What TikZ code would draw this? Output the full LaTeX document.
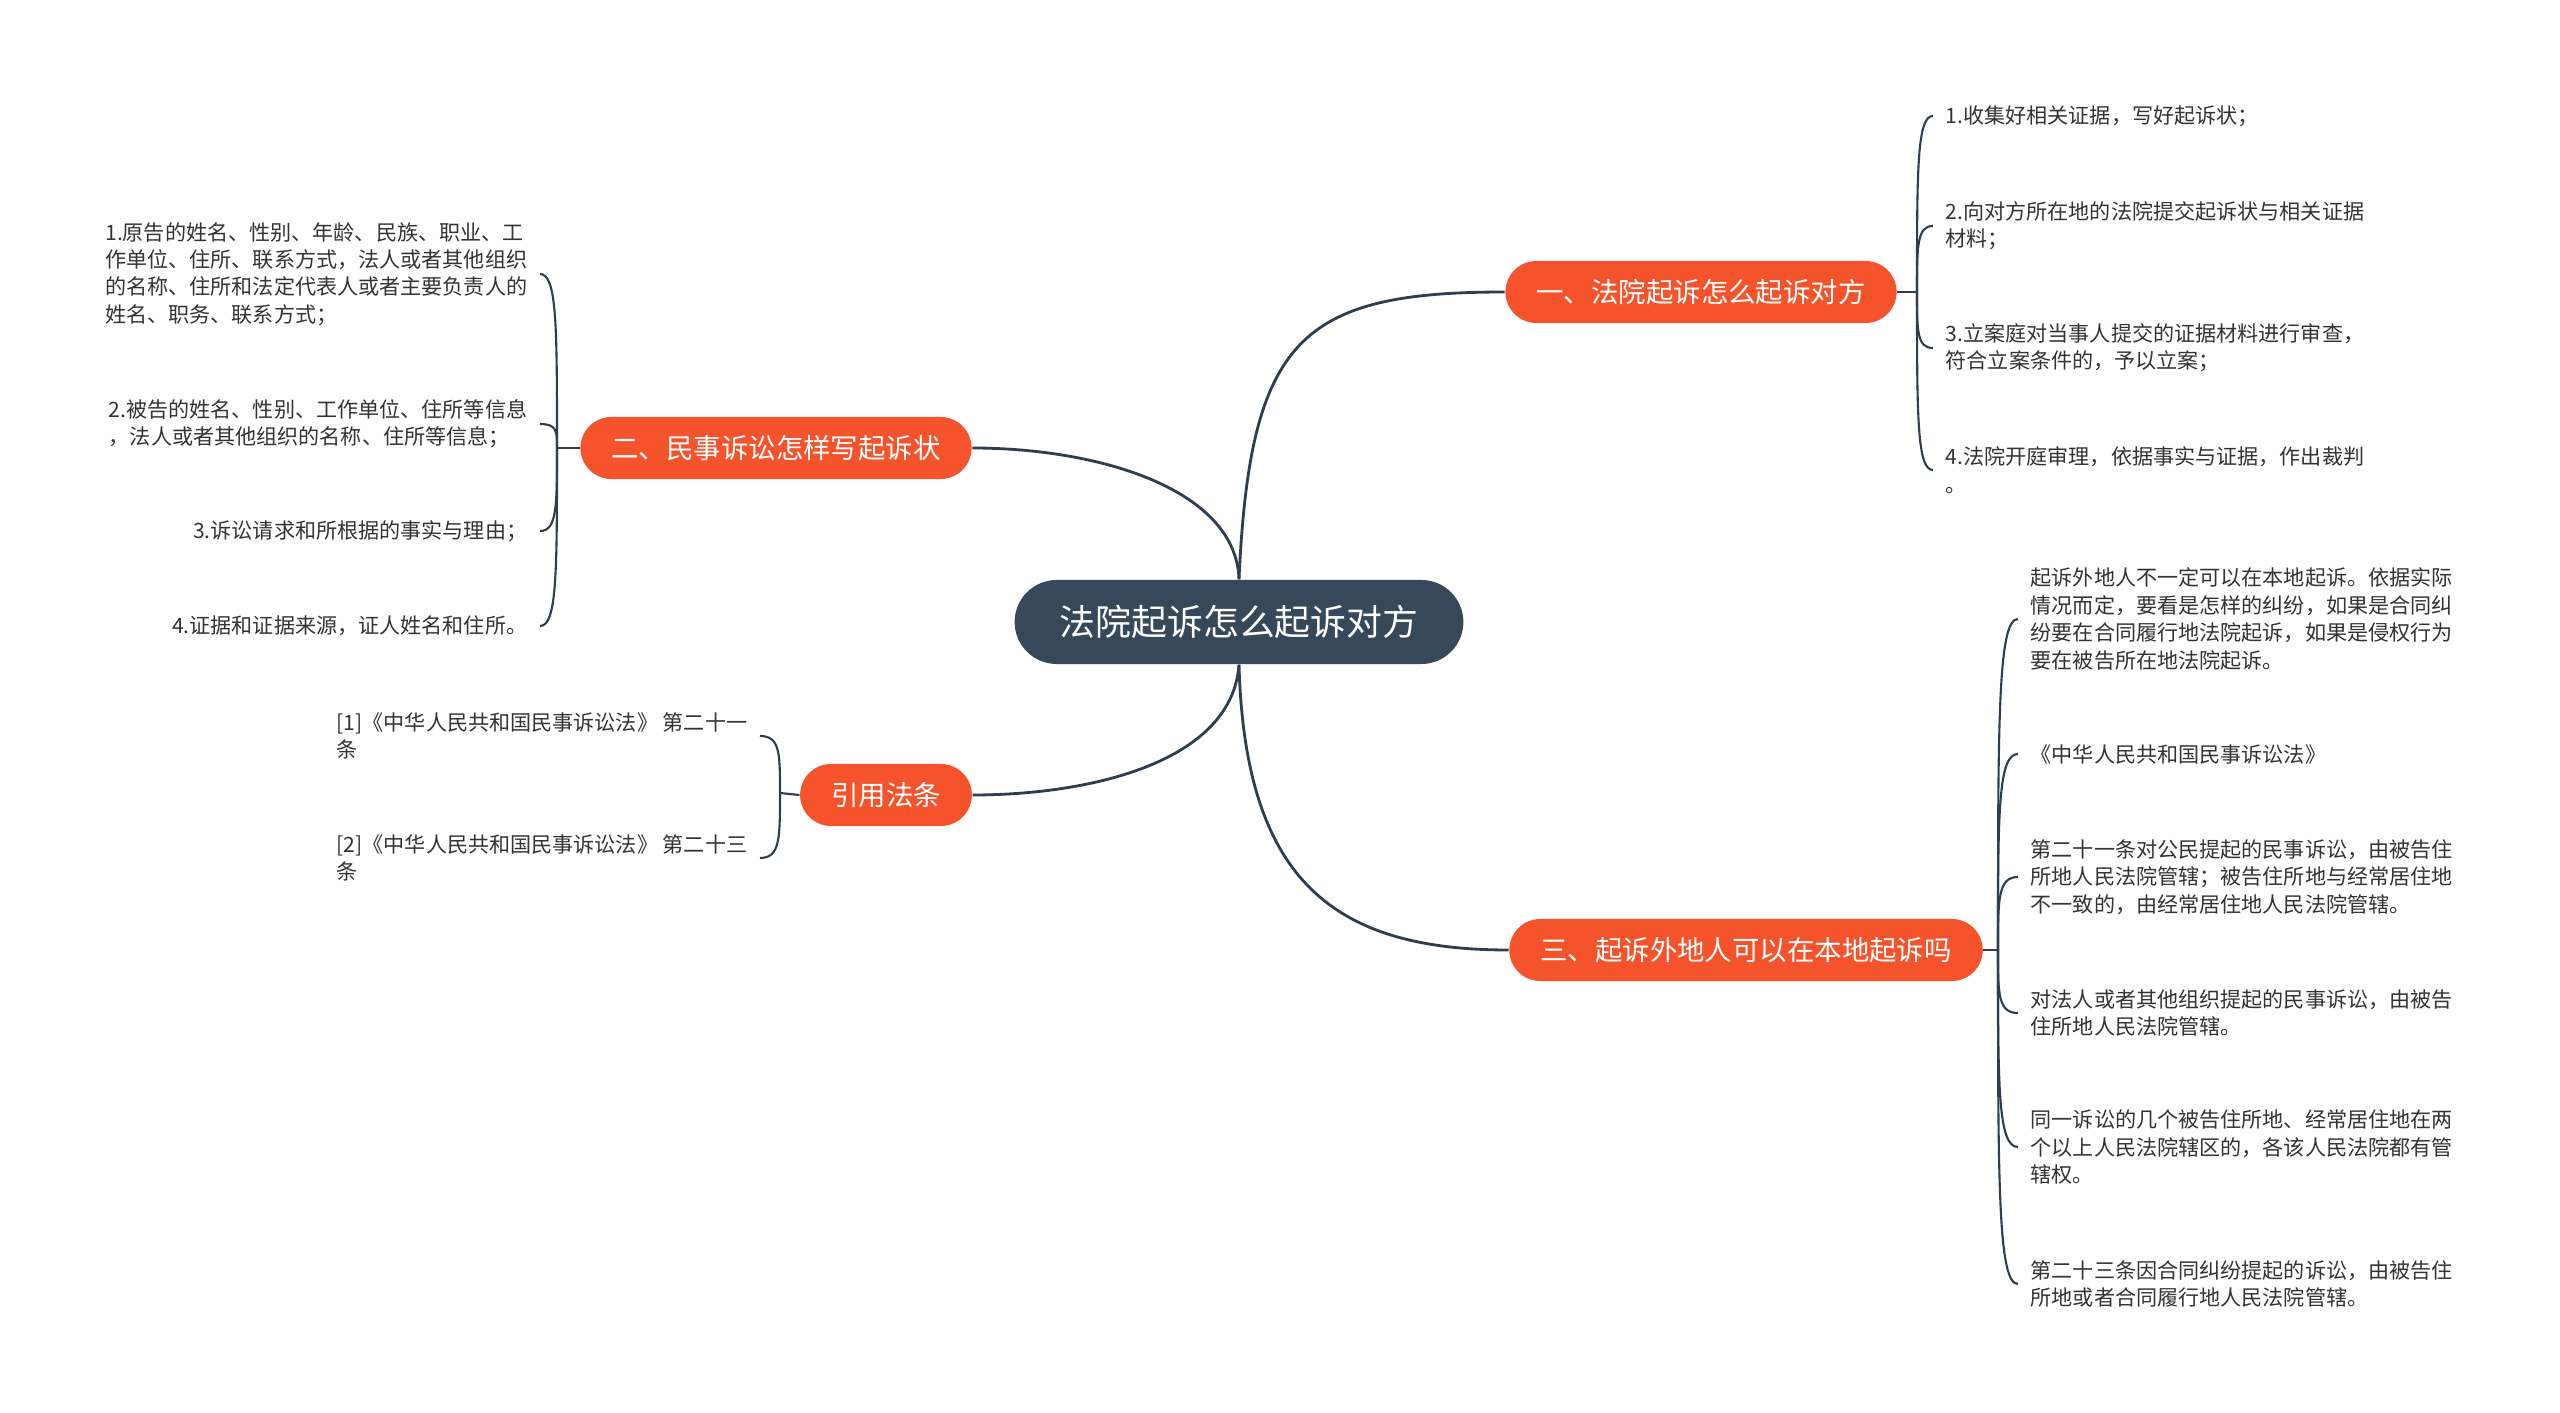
\documentclass[tikz,border=0pt]{standalone}
\usepackage{fontspec}
\setmainfont{Noto Sans CJK SC}
\usetikzlibrary{calc}

\definecolor{slate}{HTML}{364859}
\definecolor{topicred}{HTML}{F4532B}
\definecolor{linecol}{HTML}{2E3E4E}
\definecolor{leaftext}{HTML}{333333}

\begin{document}
\begin{tikzpicture}[x=0.01cm,y=-0.01cm,
        rootnode/.style={fill=slate,text=white,rounded corners=0.42cm,minimum height=0.84cm,
            inner xsep=0.45cm,font=\fontsize{10.2pt}{12pt}\selectfont},
        topic/.style={fill=topicred,text=white,rounded corners=0.31cm,minimum height=0.62cm,
            inner xsep=0.31cm,font=\fontsize{7.8pt}{9pt}\selectfont},
        leafr/.style={anchor=west,align=left,inner xsep=0.12cm,inner ysep=0.05cm,
            text=leaftext,font=\fontsize{6pt}{7.8pt}\selectfont},
        leafl/.style={leafr,anchor=east},
        mainline/.style={draw=linecol,line width=0.8pt},
        subline/.style={draw=linecol,line width=0.6pt}]

            \fill[white] (0,0) rectangle (2560,1413);
            \useasboundingbox (0,0) rectangle (2560,1413);

            \node[rootnode] (root) at (1239,622) {法院起诉怎么起诉对方};

            \node[topic] (b1) at (1701,292) {一、法院起诉怎么起诉对方};
            \node[topic] (b2) at (776,448) {二、民事诉讼怎样写起诉状};
            \node[topic] (b3) at (1746,950) {三、起诉外地人可以在本地起诉吗};
            \node[topic] (b4) at (886,795) {引用法条};

            \coordinate (s1) at (1917,292);
            \coordinate (s2) at (557,448);
            \coordinate (s3) at (1998,950);
            \coordinate (s4) at (780,793);

            \node[leafr] (l11) at (1933,116) {1.收集好相关证据，写好起诉状；};
            \node[leafr] (l12) at (1933,226) {2.向对方所在地的法院提交起诉状与相关证据\\材料；};
            \node[leafr] (l13) at (1933,348) {3.立案庭对当事人提交的证据材料进行审查，\\符合立案条件的，予以立案；};
            \node[leafr] (l14) at (1933,470) {4.法院开庭审理，依据事实与证据，作出裁判\\。};

            \node[leafl] (l21) at (540,274) {1.原告的姓名、性别、年龄、民族、职业、工\\作单位、住所、联系方式，法人或者其他组织\\的名称、住所和法定代表人或者主要负责人的\\姓名、职务、联系方式；};
            \node[leafl] (l22) at (540,424) {2.被告的姓名、性别、工作单位、住所等信息\\，法人或者其他组织的名称、住所等信息；};
            \node[leafl] (l23) at (540,531) {3.诉讼请求和所根据的事实与理由；};
            \node[leafl] (l24) at (540,626) {4.证据和证据来源，证人姓名和住所。};

            \node[leafr] (l31) at (2018,619) {起诉外地人不一定可以在本地起诉。依据实际\\情况而定，要看是怎样的纠纷，如果是合同纠\\纷要在合同履行地法院起诉，如果是侵权行为\\要在被告所在地法院起诉。};
            \node[leafr] (l32) at (2018,754) {《中华人民共和国民事诉讼法》};
            \node[leafr] (l33) at (2018,877) {第二十一条对公民提起的民事诉讼，由被告住\\所地人民法院管辖；被告住所地与经常居住地\\不一致的，由经常居住地人民法院管辖。};
            \node[leafr] (l34) at (2018,1013) {对法人或者其他组织提起的民事诉讼，由被告\\住所地人民法院管辖。};
            \node[leafr] (l35) at (2018,1147) {同一诉讼的几个被告住所地、经常居住地在两\\个以上人民法院辖区的，各该人民法院都有管\\辖权。};
            \node[leafr] (l36) at (2018,1284) {第二十三条因合同纠纷提起的诉讼，由被告住\\所地或者合同履行地人民法院管辖。};

            \node[leafl] (l41) at (760,736) {[1]《中华人民共和国民事诉讼法》 第二十一\\条};
            \node[leafl] (l42) at (760,858) {[2]《中华人民共和国民事诉讼法》 第二十三\\条};

            \draw[mainline] (root.north) .. controls +(11,-240) and +(-205,0) .. (b1.west);
            \draw[mainline] (root.north) .. controls +(-3,-90) and +(127,0) .. (b2.east);
            \draw[mainline] (root.south) .. controls +(6,217) and +(-174,0) .. (b3.west);
            \draw[mainline] (root.south) .. controls +(-7,97) and +(119,0) .. (b4.east);

            \draw[subline] (b1.east) -- (s1);
            \draw[subline] (b2.west) -- (s2);
            \draw[subline] (b3.east) -- (s3);
            \draw[subline] (b4.west) -- (s4);

            \foreach \s/\l in {s1/l11,s1/l12,s1/l13,s1/l14,s3/l31,s3/l32,s3/l33,s3/l34,s3/l35,s3/l36}{
                \draw[subline] (\s) .. controls ($(\s)!0.7!(\s|-\l.west)$) and (\s|-\l.west) .. (\l.west);
            }
            \foreach \s/\l in {s2/l21,s2/l22,s2/l23,s2/l24,s4/l41,s4/l42}{
                \draw[subline] (\s) .. controls ($(\s)!0.7!(\s|-\l.east)$) and (\s|-\l.east) .. (\l.east);
            }
        \end{tikzpicture}
\end{document}
